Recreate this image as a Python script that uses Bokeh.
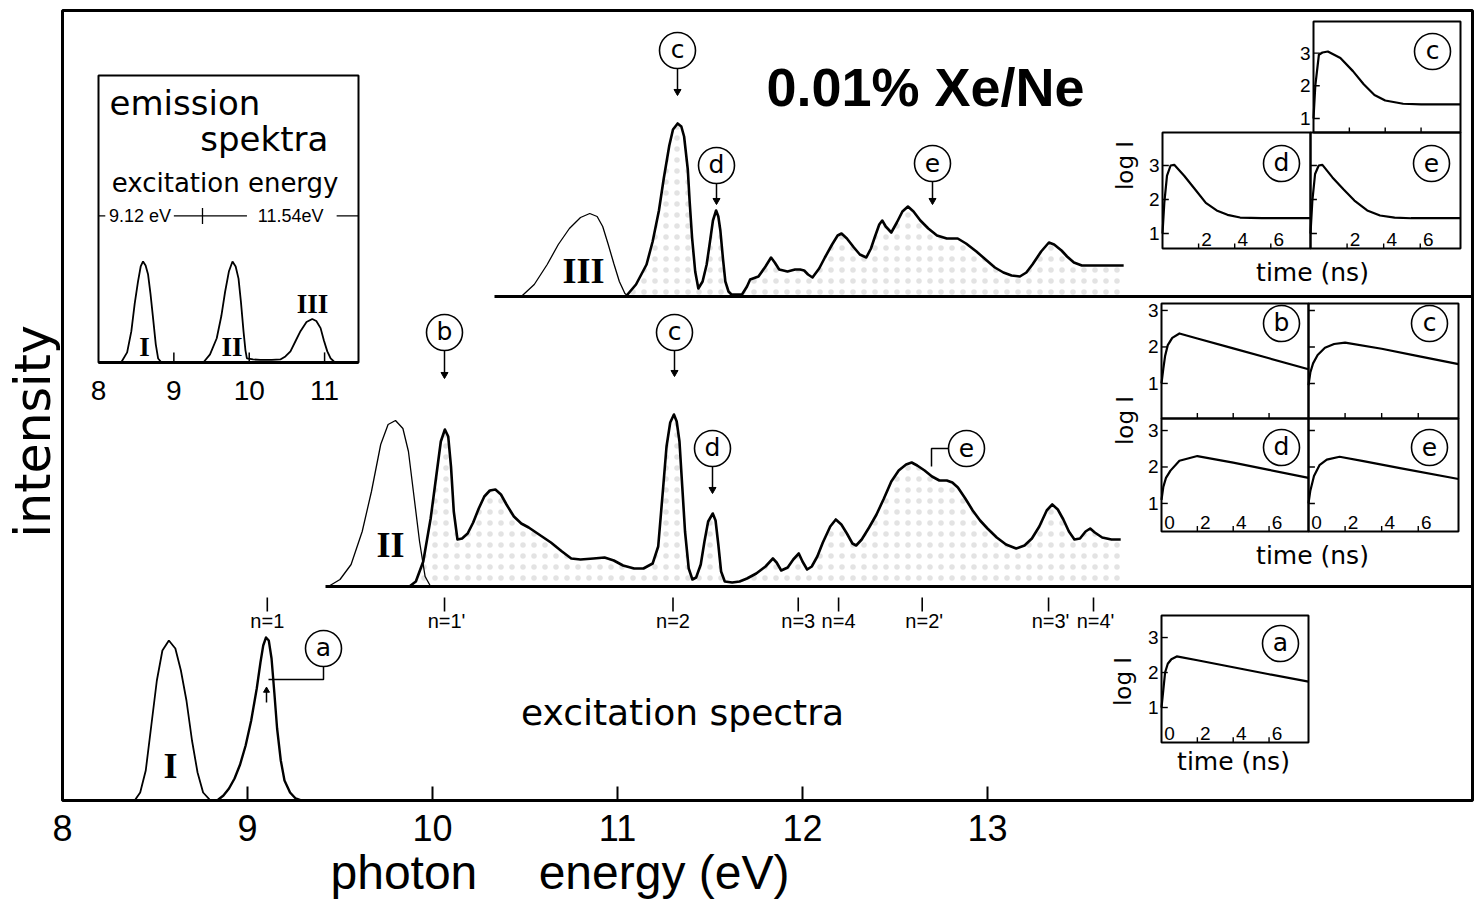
import math
from bokeh.plotting import figure
from bokeh.models import Range1d, FixedTicker, Title
from bokeh.core.properties import value
from bokeh.embed import file_html
from bokeh.resources import INLINE

# ---------------- data ----------------
# bottom trace: emission band I and excitation at n=1
band_I_ev = [8.39, 8.42, 8.45, 8.48, 8.51, 8.54, 8.575, 8.61, 8.64, 8.67, 8.70, 8.73, 8.76, 8.80]
band_I_int = [0, 8, 30, 75, 120, 150, 160, 152, 130, 100, 60, 28, 8, 0]
exc_a_ev = [8.836, 8.87, 8.90, 8.93, 8.96, 8.99, 9.02, 9.05, 9.07, 9.085, 9.10, 9.115, 9.13,
            9.145, 9.16, 9.18, 9.20, 9.23, 9.26, 9.29]
exc_a_int = [0, 5, 12, 22, 36, 55, 80, 112, 138, 155, 163, 160, 142, 108, 72, 40, 20, 8, 2, 0]

# middle trace: emission band II and excitation spectrum
band_II_ev = [9.437, 9.50, 9.56, 9.62, 9.67, 9.72, 9.76, 9.80, 9.84, 9.87, 9.90, 9.93, 9.96, 9.99]
band_II_int = [0, 7, 22, 55, 95, 142, 162, 166, 158, 135, 90, 45, 10, 0]
exc_mid_ev = [9.875, 9.91, 9.95, 9.99, 10.02, 10.045, 10.067, 10.085, 10.10, 10.115, 10.135, 10.16,
              10.19, 10.22, 10.25, 10.28, 10.31, 10.34, 10.37, 10.40, 10.44, 10.48, 10.52, 10.56,
              10.60, 10.64, 10.70, 10.75, 10.80, 10.87, 10.93, 10.98, 11.03, 11.09, 11.14, 11.19,
              11.22, 11.245, 11.265, 11.285, 11.305, 11.32, 11.335, 11.35, 11.365, 11.385, 11.405,
              11.425, 11.45, 11.47, 11.49, 11.515, 11.53, 11.545, 11.56, 11.58, 11.62, 11.66, 11.70,
              11.75, 11.80, 11.84, 11.86, 11.885, 11.92, 11.95, 11.98, 12.00, 12.025, 12.05, 12.08,
              12.11, 12.15, 12.18, 12.21, 12.24, 12.27, 12.29, 12.32, 12.36, 12.40, 12.44, 12.48,
              12.52, 12.56, 12.59, 12.62, 12.66, 12.70, 12.74, 12.78, 12.81, 12.84, 12.88, 12.92,
              12.96, 13.00, 13.05, 13.10, 13.155, 13.20, 13.24, 13.28, 13.32, 13.35, 13.38, 13.41,
              13.44, 13.47, 13.50, 13.53, 13.555, 13.58, 13.62, 13.67, 13.72]
exc_mid_int = [0, 5, 25, 68, 110, 145, 157, 150, 120, 75, 47, 48,
               53, 64, 78, 90, 96, 97, 92, 82, 70, 63, 59, 54,
               49, 44, 35, 28, 27, 28, 29, 26, 21, 18, 18, 23,
               40, 95, 140, 164, 172, 165, 145, 100, 55, 18, 7,
               9, 22, 45, 65, 73, 66, 42, 15, 5, 4, 5, 8,
               13, 20, 28, 24, 16, 19, 27, 33, 25, 17, 20, 30,
               44, 60, 67, 62, 53, 43, 41, 47, 59, 72, 88, 105,
               116, 122, 124, 121, 116, 110, 106, 106, 104, 99, 88, 76,
               66, 58, 49, 42, 38, 41, 48, 60, 76, 82, 77, 67,
               55, 47, 48, 55, 58, 54, 49, 47, 47]

# top trace: emission band III and excitation spectrum
band_III_ev = [10.48, 10.55, 10.62, 10.68, 10.74, 10.80, 10.85, 10.89, 10.92, 10.95, 10.98, 11.01, 11.04, 11.06]
band_III_int = [0, 12, 32, 52, 68, 79, 83, 80, 70, 52, 33, 15, 3, 0]
exc_top_ev = [11.045, 11.10, 11.157, 11.19, 11.224, 11.25, 11.28, 11.30, 11.325, 11.345, 11.36, 11.38,
              11.39, 11.403, 11.42, 11.437, 11.46, 11.482, 11.50, 11.516, 11.533, 11.545, 11.556,
              11.57, 11.583, 11.60, 11.616, 11.673, 11.70, 11.717, 11.762, 11.80, 11.83, 11.85,
              11.874, 11.919, 11.96, 11.987, 12.009, 12.03, 12.054, 12.09, 12.121, 12.16, 12.19,
              12.211, 12.24, 12.278, 12.31, 12.345, 12.37, 12.39, 12.415, 12.431, 12.45, 12.48,
              12.51, 12.54, 12.57, 12.60, 12.637, 12.68, 12.727, 12.78, 12.839, 12.884, 12.94,
              12.996, 13.04, 13.086, 13.13, 13.175, 13.21, 13.243, 13.29, 13.332, 13.36, 13.40,
              13.43, 13.467, 13.51, 13.557, 13.65, 13.736]
exc_top_int = [0, 12, 32, 55, 86, 118, 151, 167, 173, 170, 160, 127,
               95, 59, 25, 8, 15, 32, 55, 76, 86, 80, 66,
               38, 15, 5, 2, 2, 10, 17, 20, 30, 39, 34,
               27, 25, 27, 27, 26, 22, 19, 28, 39, 52, 61,
               63, 58, 49, 42, 39, 48, 59, 72, 76, 70, 64,
               74, 85, 90, 85, 76, 68, 61, 58, 58, 53, 45,
               36, 29, 24, 21, 20, 24, 32, 45, 54, 52, 46,
               40, 34, 31, 31, 31, 31]

# energy axis
energy_ticks = [8, 9, 10, 11, 12, 13]

# exciton series markers
n_labels = ["n=1", "n=1'", "n=2", "n=3", "n=4", "n=2'", "n=3'", "n=4'"]
n_energy = [9.107, 10.065, 11.30, 11.977, 12.195, 12.647, 13.33, 13.573]

# emission spectra inset
em_ticks = [8, 9, 10, 11]
em_I_ev = [8.30, 8.38, 8.436, 8.48, 8.524, 8.56, 8.591, 8.625, 8.658, 8.69, 8.724, 8.76, 8.791, 8.836]
em_I_int = [0, 0.10, 0.31, 0.58, 0.80, 0.95, 1.0, 0.96, 0.87, 0.68, 0.44, 0.18, 0.04, 0]
em_II_ev = [9.391, 9.48, 9.569, 9.63, 9.68, 9.73, 9.778, 9.82, 9.858, 9.89, 9.924, 9.95, 9.969,
            10.05, 10.147, 10.30, 10.413, 10.48, 10.547, 10.62, 10.68, 10.76, 10.836, 10.89,
            10.947, 10.99, 11.036, 11.08, 11.124, 11.169]
em_II_int = [0, 0.08, 0.24, 0.46, 0.70, 0.90, 1.0, 0.95, 0.83, 0.60, 0.31, 0.12, 0.04,
             0.03, 0.026, 0.026, 0.03, 0.06, 0.11, 0.22, 0.31, 0.40, 0.43, 0.41,
             0.34, 0.22, 0.11, 0.04, 0.01, 0]

# decay curves, log I versus time (ns)
time_ticks = [2, 4, 6]
logi_ticks = [1, 2, 3]
top_c_t = [0, 0.1, 0.3, 0.5, 0.8, 1.5, 2.2, 2.8, 3.4, 4.0, 5.0, 6.0, 8.2]
top_c_l = [1.0, 2.0, 2.95, 3.02, 3.05, 2.85, 2.45, 2.05, 1.72, 1.55, 1.45, 1.43, 1.43]
top_d_t = [0, 0.1, 0.25, 0.45, 0.65, 1.2, 1.8, 2.4, 3.0, 3.6, 4.3, 5.5, 8.2]
top_d_l = [1.0, 1.9, 2.7, 3.0, 3.02, 2.7, 2.3, 1.9, 1.68, 1.55, 1.47, 1.45, 1.45]
top_e_t = [0, 0.1, 0.25, 0.45, 0.65, 1.2, 1.8, 2.4, 3.1, 3.8, 4.6, 5.5, 8.2]
top_e_l = [1.0, 1.95, 2.75, 3.0, 3.02, 2.65, 2.3, 1.97, 1.68, 1.53, 1.47, 1.45, 1.45]
mid_b_t = [0, 0.1, 0.2, 0.35, 0.6, 1.0, 2, 4, 6, 8.2]
mid_b_l = [1.0, 1.4, 1.75, 2.05, 2.25, 2.37, 2.23, 1.96, 1.69, 1.39]
mid_c_t = [0, 0.1, 0.25, 0.5, 0.9, 1.4, 2.0, 4, 6, 8.2]
mid_c_l = [0.95, 1.3, 1.55, 1.78, 1.98, 2.08, 2.12, 1.95, 1.75, 1.53]
mid_d_t = [0, 0.1, 0.25, 0.5, 1.0, 2.0, 4, 6, 8.2]
mid_d_l = [1.1, 1.45, 1.7, 1.9, 2.17, 2.3, 2.12, 1.92, 1.7]
mid_e_t = [0, 0.1, 0.3, 0.6, 1.0, 1.7, 3, 5, 8.2]
mid_e_l = [1.0, 1.35, 1.75, 2.05, 2.2, 2.28, 2.16, 1.97, 1.67]
bot_a_t = [0, 0.1, 0.2, 0.35, 0.55, 0.85, 2, 4, 6, 8.2]
bot_a_l = [1.0, 1.5, 2.0, 2.25, 2.38, 2.46, 2.35, 2.15, 1.95, 1.74]

# ---------------- layout helpers (page pixel -> main data) ----------------
PX_PER_EV = 185.0
def ex(px):
    return 8 + (px - 62) / PX_PER_EV
def ey(py):
    return 800 - py

SANS = "DejaVu Sans"
NUM = "Liberation Sans"
SERIF = "Liberation Serif"

p = figure(width=1478, height=904, x_range=Range1d(8, ex(1472)), y_range=Range1d(0, 790),
           output_backend="svg", toolbar_location=None, y_axis_location=None,
           min_border_left=62, min_border_right=6, min_border_top=10, min_border_bottom=104)
p.outline_line_color = "black"
p.outline_line_width = 3
p.grid.visible = False
p.background_fill_color = "white"
p.border_fill_color = "white"

ax = p.xaxis[0]
ax.ticker = FixedTicker(ticks=energy_ticks)
ax.axis_line_color = None
ax.major_tick_in = 14
ax.major_tick_out = 0
ax.major_tick_line_width = 2
ax.minor_tick_line_color = None
ax.major_label_text_font = NUM
ax.major_label_text_font_size = "36px"
ax.major_label_standoff = 14
ax.major_label_text_color = "black"

# axis titles outside the frame
p.add_layout(Title(text="photon \u2003energy (eV)", align="left", offset=268, standoff=0,
                   text_font=NUM, text_font_size="48px", text_font_style="normal",
                   text_color="black"), "below")
p.add_layout(Title(text="intensity", align="left", offset=263, standoff=2,
                   text_font=SANS, text_font_size="49px", text_font_style="normal",
                   text_color="black"), "left")

# offsets of the stacked traces (pixels above the frame bottom)
OFF_TOP = ey(296)
OFF_MID = ey(586)

def stack(vals, off):
    return [v + off for v in vals]

# stippled areas under excitation spectra
for evs, ints, off in [(exc_top_ev, exc_top_int, OFF_TOP), (exc_mid_ev, exc_mid_int, OFF_MID)]:
    p.varea(x=evs, y1=[off] * len(evs), y2=stack(ints, off), fill_alpha=0,
            hatch_pattern=".", hatch_color="#b0b0b0", hatch_scale=11, hatch_alpha=0.35)

# baselines of stacked traces
p.segment(x0=[ex(494), ex(325)], y0=[OFF_TOP, OFF_MID], x1=[ex(1472), ex(1472)], y1=[OFF_TOP, OFF_MID],
          line_color="black", line_width=3)

# emission bands (thin)
p.line(band_III_ev, stack(band_III_int, OFF_TOP), line_color="black", line_width=1.3)
p.line(band_II_ev, stack(band_II_int, OFF_MID), line_color="black", line_width=1.3)
p.line(band_I_ev, band_I_int, line_color="black", line_width=1.8)
# excitation spectra (thick)
p.line(exc_top_ev, stack(exc_top_int, OFF_TOP), line_color="black", line_width=2.6, line_join="round")
p.line(exc_mid_ev, stack(exc_mid_int, OFF_MID), line_color="black", line_width=2.6, line_join="round")
p.line(exc_a_ev, exc_a_int, line_color="black", line_width=2.4, line_join="round")

# roman numerals
p.text(x=[ex(583), ex(390), ex(170)], y=[ey(270), ey(544), ey(765)], text=["III", "II", "I"],
       text_font=value(SERIF), text_font_style="bold", text_font_size="36px",
       text_align="center", text_baseline="middle", text_color="black")

# exciton series markers
p.text(x=n_energy, y=[ey(620)] * len(n_energy), text=n_labels, text_font=value(NUM),
       text_font_size="20px", text_align="center", text_baseline="middle",
       x_offset=[0, 2, 0, 0, 0, 2, 2, 2], text_color="black")
p.segment(x0=n_energy, y0=[ey(611)] * len(n_energy), x1=n_energy, y1=[ey(597)] * len(n_energy),
          line_color="black", line_width=1.6)

# circled labels of the main plot
circ_x = [ex(323), ex(444), ex(674), ex(712), ex(966), ex(677), ex(716), ex(932)]
circ_y = [ey(648), ey(332), ey(332), ey(448), ey(448), ey(50), ey(165), ey(163)]
circ_t = ["a", "b", "c", "d", "e", "c", "d", "e"]
# arrows from the circles to the spectra
arr_x = [ex(444), ex(674), ex(712), ex(677), ex(716), ex(932)]
arr_y0 = [ey(350), ey(350), ey(466), ey(68), ey(183), ey(181)]
arr_y1 = [ey(377), ey(375), ey(492), ey(94), ey(203), ey(203)]
p.segment(x0=arr_x, y0=arr_y0, x1=arr_x, y1=arr_y1, line_color="black", line_width=1.5)
p.scatter(x=arr_x, y=[v + 3 for v in arr_y1], marker="inverted_triangle", size=7,
          fill_color="black", line_color="black")
p.line([ex(948), ex(931), ex(931)], [ey(448), ey(448), ey(466)], line_color="black", line_width=1.5)
p.line([ex(323), ex(323), ex(268)], [ey(666), ey(679), ey(679)], line_color="black", line_width=1.5)
p.segment(x0=[ex(266)], y0=[ey(702)], x1=[ex(266)], y1=[ey(690)], line_color="black", line_width=1.5)
p.scatter(x=[ex(266)], y=[ey(690)], marker="triangle", size=6, fill_color="black", line_color="black")

p.scatter(x=circ_x, y=circ_y, marker="circle", size=36, fill_color="white",
          line_color="black", line_width=1.6)
p.text(x=circ_x, y=circ_y, text=circ_t, text_font=value(SANS), text_font_size="25px",
       text_align="center", text_baseline="middle", y_offset=-1, text_color="black")

# big texts
p.text(x=[ex(925)], y=[ey(86)], text=["0.01% Xe/Ne"], text_font=value(NUM), text_font_style="bold",
       text_font_size="54px", text_align="center", text_baseline="middle", text_color="black")
p.text(x=[ex(682)], y=[ey(712)], text=["excitation spectra"], text_font=value(SANS),
       text_font_size="36px", text_align="center", text_baseline="middle", text_color="black")

# ---------------- emission spectra inset ----------------
EM_TOP = 2.84
em = p.subplot(x_source=Range1d(8.0, 11.45), y_source=Range1d(0, EM_TOP),
               x_target=Range1d(ex(98), ex(358)), y_target=Range1d(ey(362), ey(75)))
em.quad(left=[8.0], right=[11.45], bottom=[0], top=[EM_TOP], fill_color=None,
        line_color="black", line_width=2)
em.segment(x0=[8.0], y0=[0], x1=[11.45], y1=[0], line_color="black", line_width=3)
em.segment(x0=em_ticks[1:], y0=[0] * 3, x1=em_ticks[1:], y1=[0.1] * 3, line_color="black", line_width=1.5)
em.line(em_I_ev, em_I_int, line_color="black", line_width=1.8)
em.line(em_II_ev, em_II_int, line_color="black", line_width=1.8)
em.text(x=em_ticks, y=[-0.28] * 4, text=[str(t) for t in em_ticks], text_font=value(NUM),
        text_font_size="28px", text_align="center", text_baseline="middle", text_color="black")
em.text(x=[8.147], y=[2.57], text=["emission"], text_font=value(SANS), text_font_size="34px",
        text_align="left", text_baseline="middle", text_color="black")
em.text(x=[11.05], y=[2.21], text=["spektra"], text_font=value(SANS), text_font_size="34px",
        text_align="right", text_baseline="middle", text_color="black")
em.text(x=[9.68], y=[1.78], text=["excitation energy"], text_font=value(SANS), text_font_size="26px",
        text_align="center", text_baseline="middle", text_color="black")
em.segment(x0=[8.0, 9.0, 11.16], y0=[1.45] * 3, x1=[8.09, 9.97, 11.45], y1=[1.45] * 3,
           line_color="black", line_width=1.3)
em.segment(x0=[9.38], y0=[1.37], x1=[9.38], y1=[1.53], line_color="black", line_width=1.3)
em.text(x=[8.55, 10.55], y=[1.45, 1.45], text=["9.12 eV", "11.54eV"], text_font=value(NUM),
        text_font_size="18px", text_align="center", text_baseline="middle", text_color="black")
em.text(x=[8.61, 9.77, 10.84], y=[0.15, 0.15, 0.58], text=["I", "II", "III"], text_font=value(SERIF),
        text_font_style="bold", text_font_size="27px", text_align="center", text_baseline="middle",
        text_color="black")

# ---------------- decay panels ----------------
T_MAX = 8.2
def panel(box, ysrc, ts, ls, ylabels, xlabels):
    l, t_, r, b = box
    sp = p.subplot(x_source=Range1d(0, T_MAX), y_source=Range1d(*ysrc),
                   x_target=Range1d(ex(l), ex(r)), y_target=Range1d(ey(b), ey(t_)))
    sp.quad(left=[0], right=[T_MAX], bottom=[ysrc[0]], top=[ysrc[1]], fill_color=None,
            line_color="black", line_width=2)
    sp.segment(x0=[0] * 3, y0=logi_ticks, x1=[0.35] * 3, y1=logi_ticks, line_color="black", line_width=1.4)
    sp.segment(x0=time_ticks, y0=[ysrc[0]] * 3, x1=time_ticks, y1=[ysrc[0] + 0.15] * 3,
               line_color="black", line_width=1.4)
    sp.line(ts, ls, line_color="black", line_width=2.2, line_join="round")
    if ylabels:
        sp.text(x=[0] * 3, y=logi_ticks, text=[str(v) for v in logi_ticks], text_font=value(NUM),
                text_font_size="19px", text_align="right", text_baseline="middle", x_offset=-3,
                text_color="black")
    if xlabels:
        xs = [0] + time_ticks if len(xlabels) == 4 else time_ticks
        sp.text(x=xs, y=[ysrc[0]] * len(xs), text=xlabels, text_font=value(NUM), text_font_size="19px",
                text_align="center", text_baseline="bottom", x_offset=8, y_offset=-3, text_color="black")

panel((1313, 21, 1460, 132), (0.57, 3.97), top_c_t, top_c_l, True, None)
panel((1162, 132, 1310, 248), (0.56, 3.97), top_d_t, top_d_l, True, ["2", "4", "6"])
panel((1310, 132, 1460, 248), (0.56, 3.97), top_e_t, top_e_l, False, ["2", "4", "6"])
panel((1161, 303, 1308, 418), (0.04, 3.19), mid_b_t, mid_b_l, True, None)
panel((1308, 303, 1458, 418), (0.04, 3.19), mid_c_t, mid_c_l, False, None)
panel((1161, 418, 1308, 531), (0.23, 3.33), mid_d_t, mid_d_l, True, ["0", "2", "4", "6"])
panel((1308, 418, 1458, 531), (0.23, 3.33), mid_e_t, mid_e_l, False, ["0", "2", "4", "6"])
panel((1161, 615, 1308, 742), (0.0, 3.63), bot_a_t, bot_a_l, True, ["0", "2", "4", "6"])

# circled letters of the decay panels
pan_cx = [ex(1432), ex(1281), ex(1431), ex(1281), ex(1429), ex(1281), ex(1429), ex(1280)]
pan_cy = [ey(51), ey(163), ey(163), ey(323), ey(323), ey(447), ey(447), ey(643)]
pan_ct = ["c", "d", "e", "b", "c", "d", "e", "a"]
p.scatter(x=pan_cx, y=pan_cy, marker="circle", size=36, fill_color="white",
          line_color="black", line_width=1.6)
p.text(x=pan_cx, y=pan_cy, text=pan_ct, text_font=value(SANS), text_font_size="25px",
       text_align="center", text_baseline="middle", y_offset=-1, text_color="black")
p.text(x=[ex(1312), ex(1312), ex(1233)], y=[ey(272), ey(555), ey(761)],
       text=["time (ns)", "time (ns)", "time (ns)"], text_font=value(SANS), text_font_size="25px",
       text_align="center", text_baseline="middle", text_color="black")
p.text(x=[ex(1124), ex(1124), ex(1122)], y=[ey(165), ey(420), ey(681)],
       text=["log I", "log I", "log I"], text_font=value(SANS), text_font_size="23px",
       angle=math.pi / 2, text_align="center", text_baseline="middle", text_color="black")

open("out.html", "w").write(file_html(p, INLINE))
